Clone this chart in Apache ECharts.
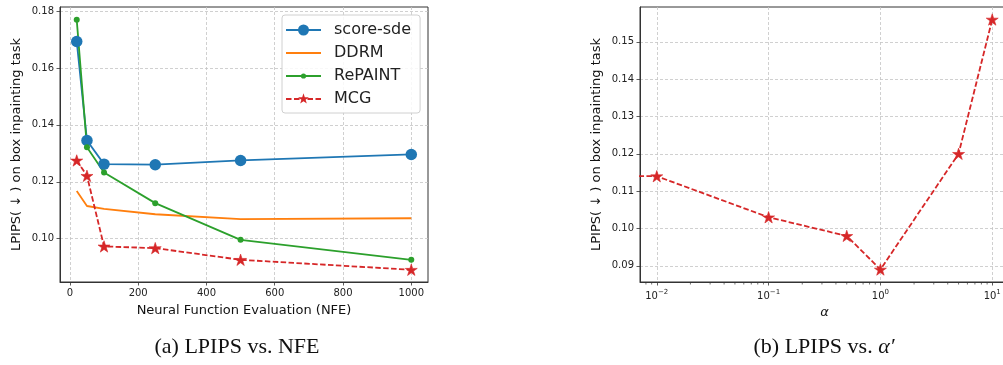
<!DOCTYPE html>
<html>
<head>
<meta charset="utf-8">
<script src="https://cdn.jsdelivr.net/npm/echarts@6/dist/echarts.min.js"></script>
<style>
  html, body { margin: 0; padding: 0; background: #fff; }
  #chart { width: 1003px; height: 365px; }
</style>
</head>
<body>
<div id="chart"></div>
<script>
// (a) LPIPS vs NFE
const nfe = [20, 50, 100, 250, 500, 1000]
const scoreSde = [0.1693, 0.1345, 0.1262, 0.1260, 0.1275, 0.1296]
const ddrm = [0.1168, 0.1115, 0.1105, 0.1086, 0.1069, 0.1072]
const repaint = [0.1769, 0.1321, 0.1233, 0.1125, 0.0996, 0.0926]
const mcg = [0.1275, 0.1221, 0.0973, 0.0967, 0.0926, 0.0891]
const nfeTicks = [0, 200, 400, 600, 800, 1000]
const lpipsTicksA = [0.10, 0.12, 0.14, 0.16, 0.18]

// (b) LPIPS vs alpha (first point is alpha = 0, pushed off the left of the log axis)
const alphas = [0.0001, 0.01, 0.1, 0.5, 1, 5, 10]
const mcgAlpha = [0.114, 0.114, 0.103, 0.098, 0.089, 0.120, 0.156]
const alphaTicks = [0.01, 0.1, 1, 10]
const lpipsTicksB = [0.09, 0.10, 0.11, 0.12, 0.13, 0.14, 0.15]

const FONT = 'DejaVu Sans'
const STAR = 'path://M50 0L61.2 34.5L97.6 34.5L68.2 55.9L79.4 90.5L50 69.1L20.6 90.5L31.8 55.9L2.4 34.5L38.8 34.5Z'
const BOX = 'M0 0M35 14'
const LINE = 'M0 6.1H35V7.9H0Z'
const icons = {
  'score-sde': 'path://' + BOX + LINE + 'M23 7A5.5 5.5 0 1 1 12 7A5.5 5.5 0 1 1 23 7Z',
  'DDRM': 'path://' + BOX + LINE,
  'RePAINT': 'path://' + BOX + LINE + 'M20.1 7A2.6 2.6 0 1 1 14.9 7A2.6 2.6 0 1 1 20.1 7Z',
  'MCG': 'path://' + BOX + 'M0 6.1H5.5V7.9H0ZM8 6.1H13.5V7.9H8ZM21.5 6.1H27V7.9H21.5ZM29.5 6.1H35V7.9H29.5Z' +
    'M17.5 1.3L18.8 5.2L22.9 5.2L19.6 7.7L20.8 11.6L17.5 9.2L14.2 11.6L15.4 7.7L12.1 5.2L16.2 5.2Z'
}

const xMinA = -29, xMaxA = 1049
const yMinA = 0.0848, yMaxA = 0.1814
const xMinB = Math.pow(10, -2.15), xMaxB = Math.pow(10, 1.15)
const yMinB = 0.08565, yMaxB = 0.15935

// minor ticks of the log axis (2..9 x 10^k)
const minorTicks = []
for (let k = -3; k <= 1; k++) {
  for (let m = 2; m <= 9; m++) {
    const v = m * Math.pow(10, k)
    if (v > xMinB && v < xMaxB) minorTicks.push(v)
  }
}

const pair = (xs, ys) => xs.map((x, i) => [x, ys[i]])

const gridLine = { show: true, lineStyle: { color: '#c4c4c4', type: [3, 2], width: 0.8 } }
const tick = { show: true, length: 3.5, lineStyle: { color: '#333', width: 0.8 } }
const axisLine = { show: true, onZero: false, lineStyle: { color: '#333', width: 1 } }
const labelStyle = { fontFamily: FONT, fontSize: 10, color: '#222' }
const nameStyle = { fontFamily: FONT, fontSize: 13, color: '#111' }
const LW = 1.8

const chart = echarts.init(document.getElementById('chart'), null, { renderer: 'canvas' })

const option = {
  animation: false,
  backgroundColor: '#fff',
  title: [
    {
      text: '(a) LPIPS vs. NFE', left: 237, top: 336, textAlign: 'center', padding: 0,
      textStyle: { fontFamily: 'Liberation Serif', fontSize: 22, fontWeight: 'normal', color: '#111' }
    },
    {
      text: '(b) LPIPS vs. {i|α′}', left: 824, top: 336, textAlign: 'center', padding: 0,
      textStyle: {
        fontFamily: 'Liberation Serif', fontSize: 22, fontWeight: 'normal', color: '#111',
        rich: { i: { fontFamily: 'Liberation Serif', fontStyle: 'italic', fontSize: 22, color: '#111' } }
      }
    }
  ],
  legend: {
    orient: 'vertical', left: 282, top: 15,
    padding: [7, 9, 6, 4],
    itemWidth: 35, itemHeight: 14, itemGap: 7,
    backgroundColor: 'rgba(255,255,255,0.85)', borderColor: '#d0d0d0', borderWidth: 1, borderRadius: 3,
    itemStyle: { borderWidth: 0 },
    textStyle: { fontFamily: FONT, fontSize: 16, color: '#222', padding: [0, 0, 0, 8], lineHeight: 14 },
    data: Object.keys(icons).map(name => ({ name: name, icon: icons[name] }))
  },
  grid: [
    { left: 60, top: 7, width: 368, height: 275, show: true, borderColor: '#333', borderWidth: 1, outerBoundsMode: 'none' },
    { left: 640, top: 7, width: 369, height: 275, show: true, borderColor: '#333', borderWidth: 1, outerBoundsMode: 'none' }
  ],
  xAxis: [
    {
      gridIndex: 0, type: 'value', min: xMinA, max: xMaxA, minInterval: 200, maxInterval: 200,
      name: 'Neural Function Evaluation (NFE)', nameLocation: 'middle', nameGap: 22, nameTextStyle: nameStyle,
      axisLine: axisLine, axisTick: Object.assign({ customValues: nfeTicks }, tick), splitLine: gridLine,
      axisLabel: Object.assign({ margin: 6, customValues: nfeTicks, formatter: v => String(v) }, labelStyle)
    },
    {
      gridIndex: 1, type: 'log', logBase: 10, min: xMinB, max: xMaxB,
      name: 'α', nameLocation: 'middle', nameGap: 20,
      nameTextStyle: Object.assign({}, nameStyle, { fontStyle: 'italic' }),
      axisLine: axisLine, axisTick: Object.assign({ customValues: alphaTicks }, tick), splitLine: gridLine,
      axisLabel: {
        margin: 7, customValues: alphaTicks,
        formatter: function (v) {
          const e = Math.round(Math.log10(v))
          return '{b|10}{s|' + String(e).replace('-', '\u2212') + '}'
        },
        rich: {
          b: { fontFamily: FONT, fontSize: 10, lineHeight: 14, color: '#222' },
          s: { fontFamily: FONT, fontSize: 7, lineHeight: 7, verticalAlign: 'top', color: '#222' }
        }
      }
    }
  ],
  yAxis: [
    {
      gridIndex: 0, type: 'value', min: yMinA, max: yMaxA, minInterval: 0.02, maxInterval: 0.02,
      name: 'LPIPS( ↓ ) on box inpainting task', nameLocation: 'middle', nameGap: 37, nameTextStyle: nameStyle,
      axisLine: axisLine, axisTick: Object.assign({ customValues: lpipsTicksA }, tick), splitLine: gridLine,
      axisLabel: Object.assign({ margin: 6, customValues: lpipsTicksA, formatter: v => v.toFixed(2) }, labelStyle)
    },
    {
      gridIndex: 1, type: 'value', min: yMinB, max: yMaxB, minInterval: 0.01, maxInterval: 0.01,
      name: 'LPIPS( ↓ ) on box inpainting task', nameLocation: 'middle', nameGap: 37, nameTextStyle: nameStyle,
      axisLine: axisLine, axisTick: Object.assign({ customValues: lpipsTicksB }, tick), splitLine: gridLine,
      axisLabel: Object.assign({ margin: 6, customValues: lpipsTicksB, formatter: v => v.toFixed(2) }, labelStyle)
    }
  ],
  series: [
    {
      name: 'score-sde', type: 'line', xAxisIndex: 0, yAxisIndex: 0, data: pair(nfe, scoreSde),
      symbol: 'circle', symbolSize: 11.5, showAllSymbol: true,
      lineStyle: { color: '#1f77b4', width: LW }, itemStyle: { color: '#1f77b4', borderWidth: 0 },
      emphasis: { disabled: true }
    },
    {
      name: 'DDRM', type: 'line', xAxisIndex: 0, yAxisIndex: 0, data: pair(nfe, ddrm),
      symbol: 'none',
      lineStyle: { color: '#ff7f0e', width: LW }, itemStyle: { color: '#ff7f0e', borderWidth: 0 },
      emphasis: { disabled: true }
    },
    {
      name: 'RePAINT', type: 'line', xAxisIndex: 0, yAxisIndex: 0, data: pair(nfe, repaint),
      symbol: 'circle', symbolSize: 6, showAllSymbol: true,
      lineStyle: { color: '#2ca02c', width: LW }, itemStyle: { color: '#2ca02c', borderWidth: 0 },
      emphasis: { disabled: true }
    },
    {
      name: 'MCG', type: 'line', xAxisIndex: 0, yAxisIndex: 0, data: pair(nfe, mcg),
      symbol: STAR, symbolSize: 12, symbolKeepAspect: true, showAllSymbol: true,
      lineStyle: { color: '#d62728', width: LW, type: [5.5, 2.4] },
      itemStyle: { color: '#d62728', borderColor: '#d62728', borderWidth: 0.6 },
      emphasis: { disabled: true }
    },
    {
      name: 'MCG alpha', type: 'line', xAxisIndex: 1, yAxisIndex: 1, data: pair(alphas, mcgAlpha),
      symbol: STAR, symbolSize: 12, symbolKeepAspect: true, showAllSymbol: true, clip: true,
      lineStyle: { color: '#d62728', width: LW, type: [5.5, 2.4] },
      itemStyle: { color: '#d62728', borderColor: '#d62728', borderWidth: 0.6 },
      emphasis: { disabled: true }
    },
    {
      name: 'minor ticks', type: 'custom', xAxisIndex: 1, yAxisIndex: 1, silent: true, clip: false,
      data: minorTicks.map(v => [v, yMinB]),
      renderItem: function (params, api) {
        const p = api.coord([api.value(0), api.value(1)])
        return {
          type: 'line',
          shape: { x1: p[0], y1: p[1], x2: p[0], y2: p[1] + 2.5 },
          style: { stroke: '#333', lineWidth: 0.7 }
        }
      }
    }
  ]
}

chart.setOption(option)
</script>
</body>
</html>
